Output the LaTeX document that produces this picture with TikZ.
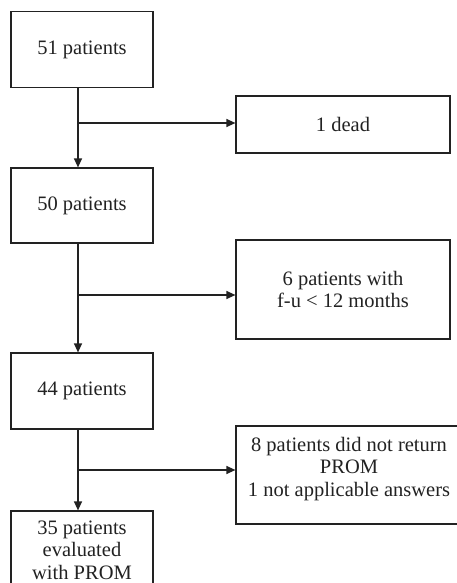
\documentclass[tikz,border=0pt]{standalone}
\usepackage{fontspec}
\setmainfont{Liberation Serif}
\usetikzlibrary{arrows.meta}
\definecolor{ink}{HTML}{222222}
\tikzset{
  box/.style={draw=ink, line width=1.2pt, rectangle, inner sep=0pt, align=center,
    font=\fontsize{20.5}{22.5}\selectfont, text=ink},
  txt/.style={inner sep=0pt, align=center, font=\fontsize{20.5}{22.5}\selectfont, text=ink},
  flow/.style={draw=ink, line width=1.2pt, -{Triangle[length=9pt,width=8pt]}},
  seg/.style={draw=ink, line width=1.2pt}
}
\begin{document}
\begin{tikzpicture}[x=1pt,y=-1pt]
\path[clip] (0,0) rectangle (457,583);
\fill[white] (0,0) rectangle (457,583);
% main column
\node[box, minimum width=142, minimum height=76] (b1) at (82,49.5) {51 patients};
\node[box, minimum width=142, minimum height=75] (b2) at (82,205.5) {50 patients};
\node[box, minimum width=142, minimum height=76] (b3) at (82,391) {44 patients};
\node[box, minimum width=142, minimum height=90] (b4) at (82,556) {};
\node[txt, anchor=north] (t4) at (82,520.5) {35 patients\\evaluated\\with PROM};
% side boxes
\node[box, minimum width=214, minimum height=57] (s1) at (343,124.5) {1 dead};
\node[box, minimum width=214, minimum height=99] (s2) at (343,289.5) {6 patients with\\f-u {<} 12 months};
\node[box, minimum width=224, minimum height=98] (s3) at (348,475) {};
\node[txt] (t3) at (349,469) {8 patients did not return\\PROM\\1 not applicable answers};
% junction coordinates
\coordinate (j1) at (78,123);
\coordinate (j2) at (78,295);
\coordinate (j3) at (78,470);
% connectors
\draw[flow] (b1.south -| j1) -- (b2.north -| j1);
\draw[flow] (b2.south -| j2) -- (b3.north -| j2);
\draw[flow] (b3.south -| j3) -- (b4.north -| j3);
\draw[flow] (j1) -- (s1.west |- j1);
\draw[flow] (j2) -- (s2.west |- j2);
\draw[flow] (j3) -- (s3.west |- j3);
\end{tikzpicture}
\end{document}
